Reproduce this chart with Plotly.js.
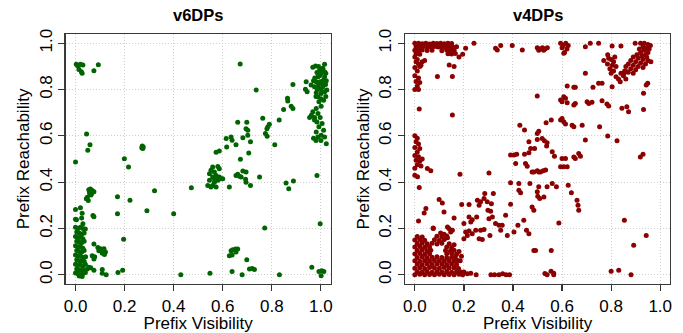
<!DOCTYPE html>
<html>
<head>
<meta charset="utf-8">
<script src="https://cdn.plot.ly/plotly-3.0.1.min.js"></script>
<style>html,body{margin:0;padding:0;background:#fff;}#chart{width:683px;height:333px;}</style>
</head>
<body>
<div id="chart"></div>
<script>
// Panel titles and axis labels
const panelTitles = ["v6DPs", "v4DPs"];
const xLabel = "Prefix Visibility";
const yLabel = "Prefix Reachability";
const tickVals = [0, 0.2, 0.4, 0.6, 0.8, 1.0];
const tickText = ["0.0", "0.2", "0.4", "0.6", "0.8", "1.0"];

// v6DPs: [visibility, reachability]
const v6Points = [
  [0.003,0.909],[0.011,0.902],[0.020,0.909],[0.030,0.906],[0.014,0.887],[0.024,0.877],[0.027,0.870],[0.075,0.881],[0.093,0.907],[0.008,0.905],
  [0.045,0.608],[0.059,0.561],[0.050,0.538],[0.000,0.487],[0.272,0.556],[0.270,0.549],[0.274,0.545],[0.276,0.552],[0.199,0.501],[0.216,0.465],
  [0.472,0.376],[0.322,0.363],[0.222,0.322],[0.171,0.337],[0.171,0.263],[0.291,0.277],[0.400,0.263],[0.196,0.153],[0.429,0.000],[0.173,0.010],
  [0.192,0.019],[0.109,0.023],[0.125,0.000],[0.109,0.006],
  [0.054,0.367],[0.061,0.370],[0.068,0.364],[0.075,0.358],[0.065,0.350],[0.057,0.353],[0.048,0.335],[0.044,0.328],[0.052,0.321],[0.071,0.357],[0.063,0.344],
  [0.071,0.256],[0.075,0.251],
  [0.000,0.282],[0.020,0.289],[0.027,0.266],[0.000,0.240],[0.004,0.238],[0.025,0.245],[0.030,0.220],[0.000,0.205],[0.010,0.200],[0.020,0.205],
  [0.030,0.200],[0.040,0.198],[0.005,0.185],[0.015,0.180],[0.025,0.175],[0.035,0.180],[0.000,0.165],[0.010,0.160],[0.020,0.162],[0.030,0.155],
  [0.005,0.145],[0.015,0.140],[0.025,0.138],[0.035,0.145],[0.000,0.125],[0.010,0.120],[0.020,0.122],[0.030,0.115],[0.005,0.105],[0.015,0.100],
  [0.025,0.098],[0.035,0.105],[0.000,0.085],[0.010,0.080],[0.020,0.082],[0.030,0.075],[0.005,0.065],[0.015,0.060],[0.025,0.062],[0.035,0.058],
  [0.000,0.045],[0.010,0.040],[0.020,0.042],[0.030,0.038],[0.040,0.045],[0.005,0.025],[0.015,0.020],[0.025,0.022],[0.035,0.018],[0.000,0.008],
  [0.010,0.004],[0.020,0.000],[0.030,0.005],[0.040,0.010],[0.015,-0.005],[0.027,-0.008],
  [0.075,0.133],[0.041,0.078],[0.068,0.082],[0.078,0.078],[0.075,0.068],[0.091,0.118],[0.102,0.112],[0.116,0.112],[0.122,0.098],[0.109,0.093],
  [0.118,0.087],[0.095,0.104],[0.054,0.032],[0.075,0.020],[0.048,0.025],[0.062,0.030],
  [0.671,0.910],[0.736,0.798],[0.886,0.822],[0.940,0.834],[0.937,0.801],[0.944,0.790],[0.864,0.762],[0.865,0.751],[0.848,0.714],[0.879,0.728],
  [0.886,0.718],[0.830,0.668],[0.763,0.676],[0.790,0.650],[0.784,0.639],[0.780,0.631],[0.774,0.610],[0.781,0.598],[0.812,0.561],[0.661,0.659],
  [0.698,0.659],[0.695,0.631],[0.702,0.624],[0.702,0.603],[0.682,0.592],[0.713,0.574],[0.706,0.526],[0.614,0.588],[0.634,0.595],[0.638,0.581],
  [0.654,0.562],[0.616,0.552],[0.672,0.499],[0.573,0.529],[0.586,0.535],
  [0.546,0.436],[0.552,0.451],[0.559,0.465],[0.566,0.444],[0.573,0.429],[0.580,0.468],[0.586,0.458],[0.593,0.415],[0.580,0.408],[0.566,0.400],
  [0.559,0.386],[0.552,0.379],[0.539,0.386],[0.573,0.379],[0.586,0.422],[0.559,0.422],[0.546,0.408],[0.600,0.415],[0.566,0.415],[0.627,0.379],
  [0.654,0.429],[0.661,0.434],[0.675,0.422],[0.682,0.448],[0.695,0.444],[0.693,0.412],[0.695,0.400],[0.713,0.386],[0.668,0.426],[0.750,0.422],
  [0.858,0.396],[0.869,0.371],[0.888,0.405],[0.984,0.429],[0.997,0.220],[0.771,0.202],
  [0.548,0.007],[0.627,0.082],[0.638,0.085],[0.634,0.104],[0.641,0.108],[0.652,0.111],[0.661,0.111],[0.654,0.098],[0.638,0.014],[0.679,0.000],
  [0.698,0.065],[0.709,0.025],[0.720,0.027],[0.729,0.023],[0.831,0.000],[0.963,0.032],[0.992,0.014],[1.004,0.017],[1.012,0.014],[1.001,-0.004],
  [0.967,0.896],[0.978,0.902],[1.015,0.909],[1.008,0.892],[0.995,0.884],[1.001,0.870],[0.988,0.855],[1.015,0.855],[0.981,0.834],[0.997,0.834],
  [1.022,0.838],[0.974,0.812],[0.992,0.805],[1.008,0.812],[1.024,0.798],[0.981,0.786],[1.001,0.783],[1.015,0.790],[0.988,0.769],[1.011,0.754],
  [0.992,0.747],[1.001,0.728],[0.981,0.718],[0.967,0.704],[0.988,0.697],[0.974,0.679],[0.954,0.679],[0.997,0.679],[0.984,0.660],[0.992,0.639],
  [0.981,0.617],[1.001,0.603],[1.015,0.595],[0.988,0.595],[1.022,0.566],[1.011,0.624],[1.005,0.653],[0.974,0.668],[0.961,0.689],[1.015,0.877],
  [0.984,0.874],[1.005,0.827],[0.970,0.838],[1.019,0.822],[0.990,0.820],[1.000,0.800],[0.985,0.800],[1.010,0.840],[0.995,0.860],[0.975,0.850],
  [1.000,0.890],[0.990,0.900],[1.020,0.870],[0.960,0.820],[0.980,0.770],[1.000,0.760],[1.020,0.770],[0.970,0.590],[0.980,0.580],[1.000,0.580]
];

// v4DPs: [visibility, reachability]
const v4Points = [
  // top band near reachability 1.0
  [0.000,1.000],[0.015,1.000],[0.030,0.998],[0.045,1.000],[0.060,0.997],[0.075,1.000],[0.090,0.999],[0.105,1.000],[0.120,0.998],[0.135,1.000],[0.150,0.999],
  [0.005,0.985],[0.020,0.984],[0.035,0.986],[0.050,0.983],[0.065,0.985],[0.080,0.986],[0.095,0.984],[0.110,0.985],[0.125,0.983],[0.140,0.986],[0.155,0.984],[0.170,0.985],
  [0.000,0.970],[0.015,0.968],[0.030,0.971],[0.050,0.969],[0.070,0.970],[0.110,0.968],[0.130,0.971],[0.145,0.969],[0.160,0.970],
  [0.005,0.955],[0.020,0.952],[0.135,0.955],[0.150,0.953],[0.165,0.956],[0.180,0.940],[0.195,0.952],[0.140,0.957],
  [0.207,0.978],[0.241,1.000],[0.329,0.978],[0.336,0.971],[0.350,0.990],[0.397,0.990],[0.438,0.971],
  [0.499,0.980],[0.510,0.975],[0.520,0.980],[0.530,0.975],[0.540,0.980],[0.505,0.970],[0.525,0.970],
  [0.594,1.000],[0.605,0.990],[0.615,1.000],[0.625,0.990],[0.600,0.980],[0.620,0.975],[0.610,0.960],[0.607,0.957],
  [0.695,0.985],[0.715,1.000],[0.749,1.000],[0.804,0.988],[0.840,0.988],[0.898,1.000],
  // left column
  [0.000,0.940],[0.010,0.930],[0.005,0.920],[0.015,0.910],[0.000,0.895],[0.020,0.900],[0.010,0.880],[0.000,0.860],[0.015,0.850],[0.005,0.835],
  [0.020,0.830],[0.010,0.815],[0.000,0.800],[0.015,0.800],[0.030,0.920],[0.040,0.925],[0.025,0.905],
  [0.140,0.906],[0.160,0.900],[0.092,0.856],[0.153,0.856],[0.018,0.716],[0.153,0.690],
  [0.000,0.600],[0.010,0.590],[0.005,0.575],[0.015,0.565],[0.000,0.550],[0.020,0.545],[0.010,0.530],[0.000,0.515],[0.015,0.510],[0.005,0.495],
  [0.020,0.490],[0.010,0.475],[0.025,0.470],[0.000,0.460],[0.030,0.500],
  [0.000,0.430],[0.011,0.423],[0.018,0.377],[0.051,0.459],[0.065,0.449],[0.184,0.434],[0.302,0.440],
  // dense low block
  [0.000,0.000],[0.020,0.002],[0.040,0.000],[0.060,0.001],[0.080,0.000],[0.100,0.002],[0.120,0.000],[0.140,0.001],[0.160,0.000],[0.180,0.002],[0.195,0.000],
  [0.010,0.013],[0.030,0.012],[0.050,0.014],[0.070,0.011],[0.090,0.013],[0.110,0.012],[0.130,0.014],[0.150,0.011],[0.170,0.013],[0.188,0.012],
  [0.000,0.028],[0.020,0.030],[0.040,0.027],[0.060,0.031],[0.080,0.029],[0.100,0.028],[0.120,0.031],[0.140,0.029],[0.160,0.030],[0.178,0.027],
  [0.010,0.045],[0.030,0.043],[0.050,0.046],[0.070,0.044],[0.090,0.047],[0.110,0.045],[0.130,0.043],[0.150,0.046],[0.170,0.044],
  [0.000,0.060],[0.020,0.058],[0.040,0.061],[0.060,0.059],[0.080,0.062],[0.100,0.060],[0.120,0.058],[0.140,0.061],[0.160,0.059],[0.175,0.062],
  [0.010,0.075],[0.030,0.077],[0.050,0.074],[0.070,0.076],[0.090,0.078],[0.110,0.075],[0.130,0.073],[0.150,0.076],[0.165,0.078],
  [0.000,0.090],[0.020,0.092],[0.040,0.089],[0.060,0.091],[0.130,0.090],[0.150,0.093],[0.170,0.089],
  [0.010,0.105],[0.030,0.107],[0.050,0.104],[0.065,0.106],[0.125,0.105],[0.145,0.103],[0.160,0.106],
  [0.000,0.120],[0.020,0.122],[0.040,0.119],[0.060,0.121],[0.130,0.120],[0.150,0.118],
  [0.010,0.135],[0.030,0.137],[0.050,0.134],[0.070,0.136],[0.090,0.133],[0.110,0.136],[0.140,0.134],
  [0.000,0.150],[0.020,0.152],[0.040,0.149],[0.080,0.151],[0.100,0.148],[0.120,0.152],
  [0.010,0.165],[0.030,0.163],[0.090,0.166],[0.110,0.164],[0.130,0.167],
  [0.075,0.200],[0.105,0.180],[0.139,0.200],[0.146,0.185],[0.119,0.175],[0.133,0.160],[0.160,0.130],[0.180,0.100],[0.190,0.080],[0.185,0.060],
  [0.133,0.206],[0.153,0.192],
  // bottom row
  [0.200,0.012],[0.214,0.004],[0.228,0.007],[0.250,0.000],[0.310,0.000],[0.325,0.000],[0.343,0.000],[0.358,0.004],[0.372,0.000],[0.386,0.000],
  [0.530,0.005],[0.555,0.015],[0.566,0.000],[0.800,0.015],[0.831,0.019],[0.881,0.000],
  // diagonal scatter
  [0.099,0.325],[0.112,0.310],[0.045,0.286],[0.038,0.267],[0.119,0.271],[0.160,0.245],[0.015,0.232],[0.075,0.202],[0.191,0.303],[0.221,0.303],
  [0.255,0.322],[0.268,0.315],[0.262,0.300],[0.282,0.329],[0.285,0.351],[0.320,0.351],[0.295,0.315],[0.312,0.307],[0.298,0.279],[0.309,0.274],
  [0.252,0.250],[0.221,0.250],[0.200,0.221],[0.228,0.228],[0.234,0.238],[0.207,0.185],[0.221,0.189],[0.234,0.177],[0.248,0.192],[0.268,0.192],
  [0.282,0.195],[0.214,0.170],[0.200,0.156],[0.262,0.156],[0.275,0.152],[0.302,0.242],[0.329,0.221],[0.343,0.214],[0.356,0.214],[0.316,0.250],
  [0.370,0.257],[0.306,0.170],[0.350,0.192],[0.377,0.170],[0.390,0.304],[0.390,0.397],[0.424,0.394],[0.424,0.365],[0.431,0.354],[0.404,0.185],
  [0.420,0.214],[0.444,0.235],[0.455,0.192],[0.465,0.177],[0.478,0.293],[0.485,0.279],[0.485,0.105],[0.492,0.105],[0.501,0.339],[0.509,0.329],
  [0.526,0.336],[0.499,0.358],[0.469,0.394],[0.505,0.380],[0.539,0.380],[0.499,0.449],[0.505,0.444],[0.512,0.444],[0.523,0.449],[0.533,0.452],
  [0.478,0.444],[0.485,0.444],[0.451,0.481],[0.458,0.469],[0.411,0.481],[0.447,0.521],[0.465,0.527],[0.390,0.517],[0.404,0.517],[0.415,0.521],
  [0.472,0.545],[0.488,0.545],[0.465,0.574],[0.499,0.584],[0.519,0.589],[0.528,0.579],[0.539,0.570],[0.537,0.556],[0.499,0.610],[0.505,0.620],
  [0.428,0.646],[0.447,0.625],[0.535,0.657],[0.556,0.668],[0.560,0.531],[0.569,0.512],[0.577,0.380],[0.594,0.466],[0.607,0.466],[0.621,0.466],
  [0.600,0.502],[0.614,0.502],[0.625,0.387],[0.638,0.354],[0.648,0.509],[0.654,0.502],[0.668,0.524],[0.675,0.512],[0.661,0.322],[0.665,0.300],
  [0.668,0.279],[0.560,0.394],[0.587,0.224],[0.556,0.105],[0.539,0.000],[0.566,0.007],
  [0.594,0.668],[0.607,0.661],[0.600,0.675],[0.614,0.651],[0.641,0.646],[0.648,0.639],[0.682,0.646],[0.695,0.582],[0.753,0.639],
  [0.600,0.747],[0.607,0.769],[0.614,0.762],[0.621,0.743],[0.594,0.755],[0.648,0.733],[0.654,0.740],[0.621,0.815],[0.648,0.810],[0.654,0.810],
  [0.695,0.870],[0.702,0.747],[0.722,0.745],[0.709,0.740],[0.499,0.772],[0.726,0.810],[0.749,0.827],[0.763,0.827],[0.763,0.752],[0.783,0.737],
  [0.790,0.729],[0.786,0.599],[0.824,0.579],[0.844,0.719],[0.864,0.726],[0.871,0.704],[0.932,0.714],[0.932,0.784],[0.949,0.827],[0.943,0.820],
  [0.919,0.509],[0.930,0.521],[0.854,0.235],[0.943,0.170],[0.892,0.127],
  [0.804,0.812],[0.837,0.834],[0.851,0.870],[0.864,0.877],
  // top-right cluster
  [0.786,0.950],[0.790,0.935],[0.800,0.930],[0.810,0.920],[0.785,0.910],[0.805,0.905],[0.820,0.900],[0.795,0.890],[0.815,0.940],[0.770,0.925],
  [0.920,1.000],[0.935,1.000],[0.950,0.995],[0.930,0.985],[0.945,0.980],[0.915,0.975],[0.935,0.970],[0.950,0.960],[0.920,0.960],[0.940,0.950],
  [0.905,0.950],[0.925,0.945],[0.945,0.940],[0.890,0.940],[0.910,0.935],[0.930,0.930],[0.950,0.925],[0.880,0.925],[0.900,0.920],[0.920,0.915],
  [0.940,0.910],[0.870,0.910],[0.890,0.905],[0.910,0.900],[0.930,0.895],[0.860,0.900],[0.880,0.890],[0.900,0.885],[0.855,0.880],[0.870,0.875],
  [0.890,0.870],[0.962,0.920],[0.955,0.975],[0.960,0.990],
  [0.840,0.870],[0.850,0.860],[0.820,0.855],[0.830,0.845],[0.860,0.845],[0.800,0.870],[0.810,0.880]
];

const fontFam = "Liberation Sans, Arial, Helvetica, sans-serif";

function axisBase(domain) {
  return {
    domain: domain,
    range: [-0.04, 1.04],
    tickvals: tickVals,
    ticktext: tickText,
    ticks: "outside",
    ticklen: 6,
    tickwidth: 1.2,
    tickcolor: "#333",
    showline: true,
    mirror: true,
    linecolor: "#3a3a3a",
    linewidth: 1.3,
    showgrid: true,
    gridcolor: "#cfcfcf",
    griddash: "1px,2px",
    gridwidth: 1,
    zeroline: false,
    automargin: false,
    tickfont: {family: fontFam, size: 17, color: "#000"}
  };
}

const yDom = [0.1471, 0.898];
const xDom1 = [0.0962, 0.4842];
const xDom2 = [0.593, 0.981];
const titleFont = {family: fontFam, size: 17, color: "#000"};

const traces = [
  {
    x: v6Points.map(p => p[0]), y: v6Points.map(p => p[1]),
    type: "scatter", mode: "markers", xaxis: "x", yaxis: "y",
    marker: {color: "#006400", size: 5}, name: panelTitles[0], showlegend: false
  },
  {
    x: v4Points.map(p => p[0]), y: v4Points.map(p => p[1]),
    type: "scatter", mode: "markers", xaxis: "x2", yaxis: "y2",
    marker: {color: "#8B0000", size: 5}, name: panelTitles[1], showlegend: false
  }
];

const xa1 = Object.assign(axisBase(xDom1), {anchor: "y", title: {text: xLabel, font: titleFont, standoff: 7}});
const xa2 = Object.assign(axisBase(xDom2), {anchor: "y2", title: {text: xLabel, font: titleFont, standoff: 7}});
const ya1 = Object.assign(axisBase(yDom), {anchor: "x", tickangle: -90, title: {text: yLabel, font: titleFont, standoff: 2}});
const ya2 = Object.assign(axisBase(yDom), {anchor: "x2", tickangle: -90, title: {text: yLabel, font: titleFont, standoff: 2}});

const layout = {
  width: 683, height: 333,
  margin: {l: 0, r: 0, t: 0, b: 0},
  paper_bgcolor: "#fff", plot_bgcolor: "#fff",
  showlegend: false,
  xaxis: xa1, yaxis: ya1, xaxis2: xa2, yaxis2: ya2,
  annotations: [
    {text: "<b>" + panelTitles[0] + "</b>", xref: "paper", yref: "paper", x: (xDom1[0] + xDom1[1]) / 2, y: 1 - 15/333, xanchor: "center", yanchor: "middle", showarrow: false, font: {family: fontFam, size: 16.5, color: "#000"}},
    {text: "<b>" + panelTitles[1] + "</b>", xref: "paper", yref: "paper", x: (xDom2[0] + xDom2[1]) / 2, y: 1 - 15/333, xanchor: "center", yanchor: "middle", showarrow: false, font: {family: fontFam, size: 16.5, color: "#000"}}
  ]
};

Plotly.newPlot("chart", traces, layout, {displayModeBar: false, staticPlot: true});
</script>
</body>
</html>
